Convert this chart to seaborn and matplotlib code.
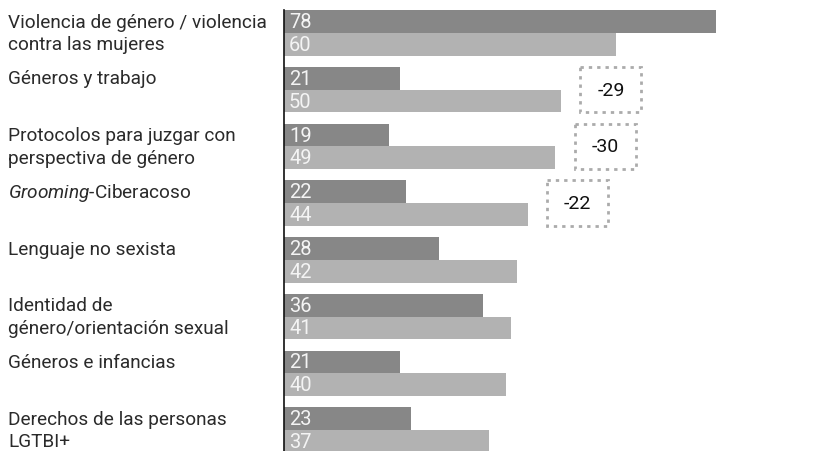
import matplotlib
matplotlib.use("Agg")
import matplotlib.pyplot as plt
from matplotlib.patches import Rectangle
import pandas as pd
import seaborn as sns

# ==========================================
# Data
# ==========================================
categories = [
    "Violencia de género / violencia\ncontra las mujeres",
    "Géneros y trabajo",
    "Protocolos para juzgar con\nperspectiva de género",
    "$\\mathit{Grooming}$-Ciberacoso",
    "Lenguaje no sexista",
    "Identidad de\ngénero/orientación sexual",
    "Géneros e infancias",
    "Derechos de las personas\nLGTBI+",
]
series_names = ["Serie 1", "Serie 2"]
values_dark = [78, 21, 19, 22, 28, 36, 21, 23]
values_light = [60, 50, 49, 44, 42, 41, 40, 37]
highlight_idx = [1, 2, 3]  # categories with a difference box

colors = ["#878787", "#b2b2b2"]

df = pd.DataFrame({
    "cat": list(range(len(categories))) * 2,
    "serie": [series_names[0]] * len(categories) + [series_names[1]] * len(categories),
    "valor": values_dark + values_light,
})

# ==========================================
# Figure
# ==========================================
sns.set_style("white")
plt.rcParams["font.family"] = ["Roboto", "DejaVu Sans"]
plt.rcParams["mathtext.fontset"] = "custom"
plt.rcParams["mathtext.rm"] = "Roboto"
plt.rcParams["mathtext.it"] = "Roboto:italic"

W, H = 831, 452
x0 = 284
px_per_unit = 5.54
fig = plt.figure(figsize=(W / 100, H / 100), dpi=100)
ax = fig.add_axes([x0 / W, 0, 1 - x0 / W, 1])

sns.barplot(
    data=df, y="cat", x="valor", hue="serie", orient="h",
    palette=colors, hue_order=series_names, width=0.8,
    linewidth=0, legend=False, ax=ax,
)

ax.set_xlim(0, (W - x0) / px_per_unit)
ax.set_ylim(7.37, -0.6)
ax.set_xlabel("")
ax.set_ylabel("")
ax.set_xticks([])
ax.set_yticks([])
for s in ["top", "right", "bottom"]:
    ax.spines[s].set_visible(False)
ax.spines["left"].set_color("#111111")
ax.spines["left"].set_linewidth(1.2)
ax.spines["left"].set_bounds(-0.4, 7.37)

# numbers inside the bars
for cont in ax.containers:
    for bar in cont:
        yc = bar.get_y() + bar.get_height() / 2
        ax.annotate(f"{int(bar.get_width())}", (0, yc), xytext=(5, 0),
                    textcoords="offset pixels", ha="left", va="center",
                    color="#f4f4f4", fontsize=14.5)

# category labels, one line per bar row
label_x = (8 - x0) / (W - x0)
trans = ax.get_yaxis_transform()
for i, lab in enumerate(categories):
    for k, line in enumerate(lab.split("\n")):
        ax.text(label_x, i - 0.2 + 0.4 * k, line, transform=trans,
                ha="left", va="center", fontsize=13.7, color="#2a2a2a")

# difference boxes
for i in highlight_idx:
    diff = values_dark[i] - values_light[i]
    left = values_light[i] + 3.5
    ax.add_patch(Rectangle((left, i - 0.4), 11, 0.8, fill=False,
                           edgecolor="#ababab", linestyle=(0, (1.2, 1.8)),
                           linewidth=2, clip_on=False))
    ax.text(left + 5.5, i, f"{diff}", ha="center", va="center",
            fontsize=14, color="#111111")

fig.savefig("out.png", dpi=100)
plt.close(fig)
